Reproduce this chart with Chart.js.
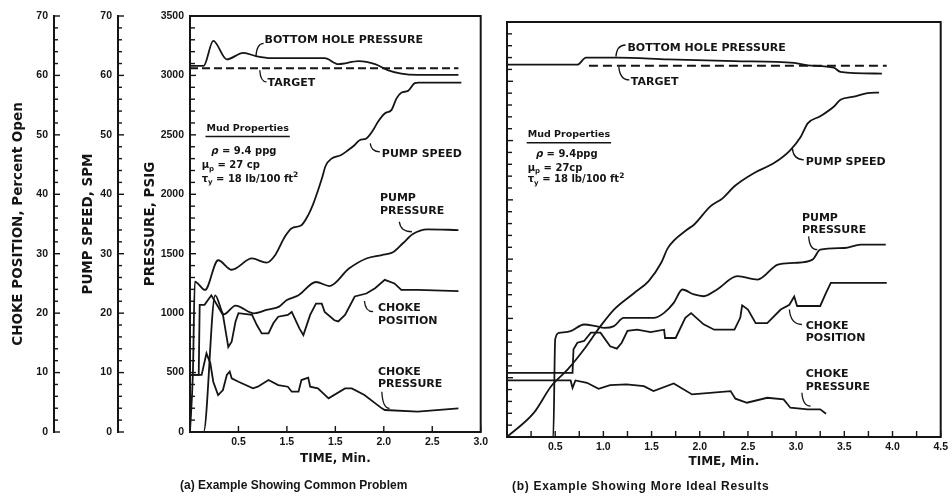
<!DOCTYPE html>
<html>
<head>
<meta charset="utf-8">
<title>Kick circulation: choke control examples</title>
<script src="https://cdn.jsdelivr.net/npm/chart.js@4.4.1/dist/chart.umd.min.js"></script>
<style>
  html, body { margin: 0; padding: 0; background: #ffffff; }
  #wrap { position: relative; width: 952px; height: 499px; overflow: hidden; }
  #boxA { position: absolute; left: 0; top: 0; }
  #boxB { position: absolute; left: 492px; top: 0; }
</style>
</head>
<body>
<div id="wrap">
  <div id="boxA"><canvas id="chartA" width="492" height="499"></canvas></div>
  <div id="boxB"><canvas id="chartB" width="460" height="499"></canvas></div>
</div>
<script>
// ---- axis ticks -------------------------------------------------------
const pressureTicks = [0, 500, 1000, 1500, 2000, 2500, 3000, 3500];
const percentTicks  = [0, 10, 20, 30, 40, 50, 60, 70];
const timeTicksA  = [0.5, 1.0, 1.5, 2.0, 2.5, 3.0];
const timeLabelsA = ['0.5', '1.5', '1.5', '2.0', '2.5', '3.0'];
const timeTicksB  = [0.5, 1.0, 1.5, 2.0, 2.5, 3.0, 3.5, 4.0, 4.5];
const timeLabelsB = ['0.5', '1.0', '1.5', '2.0', '2.5', '3.0', '3.5', '4.0', '4.5'];

// ---- (a) common problem: [time min, value] ----------------------------
const bottomHoleA = [[0,3080],[0.14,3080],[0.24,3290],[0.38,3135],[0.55,3190],[0.69,3160],[0.84,3145],[1.39,3145],[1.53,3095],[1.74,3120],[1.91,3095],[2.04,3045],[2.18,3015],[2.35,3005],[2.77,3005]];
const targetA = [[0,3060],[2.77,3060]];
// pump speed in SPM
const pumpSpeedA = [[0,0],[0.03,10],[0.05,25.3],[0.08,25.0],[0.155,23.9],[0.29,28.9],[0.43,27.3],[0.64,29.2],[0.79,28.5],[0.88,29.8],[0.98,32.9],[1.05,34.3],[1.15,34.8],[1.22,36.5],[1.27,38.3],[1.32,40.6],[1.36,42.6],[1.40,44.8],[1.46,46.0],[1.56,46.6],[1.63,47.4],[1.70,48.3],[1.75,49.1],[1.82,49.4],[1.89,50.8],[1.94,52.2],[2.01,53.6],[2.08,54.2],[2.13,56.1],[2.18,57.1],[2.25,57.4],[2.32,58.7],[2.36,58.8],[2.80,58.8]];
// pump pressure in psig
const pumpPressureA = [[0,0],[0.14,0],[0.26,1150],[0.35,990],[0.47,1064],[0.66,998],[0.80,1030],[0.92,1055],[1.00,1110],[1.12,1150],[1.30,1262],[1.44,1228],[1.64,1375],[1.82,1460],[1.98,1489],[2.10,1515],[2.20,1590],[2.30,1665],[2.45,1705],[2.77,1699]];
// choke position in percent open
const chokePositionA = [[0,9.6],[0.09,9.6],[0.10,21.4],[0.15,21.4],[0.22,23.0],[0.34,19.7],[0.38,15.8],[0.395,14.3],[0.43,15.2],[0.47,18.6],[0.50,20.0],[0.64,19.7],[0.69,18.0],[0.74,16.6],[0.81,16.6],[0.86,18.3],[0.91,19.4],[1.01,19.7],[1.05,20.2],[1.13,17.4],[1.17,16.3],[1.24,19.7],[1.30,21.6],[1.36,21.6],[1.39,20.2],[1.49,18.8],[1.53,18.6],[1.60,19.7],[1.70,22.8],[1.82,23.3],[1.91,24.2],[2.01,25.6],[2.11,25.0],[2.18,23.9],[2.35,23.9],[2.77,23.7]];
// choke pressure in psig
const chokePressureA = [[0,480],[0.12,480],[0.17,662],[0.21,578],[0.24,423],[0.29,311],[0.34,353],[0.38,480],[0.41,508],[0.43,452],[0.50,423],[0.65,367],[0.70,381],[0.81,437],[0.91,395],[1.01,381],[1.05,339],[1.12,339],[1.15,437],[1.22,457],[1.24,381],[1.32,367],[1.43,283],[1.60,367],[1.67,367],[1.80,311],[1.98,199],[2.01,185],[2.35,171],[2.77,199]];

// ---- (b) more ideal results -------------------------------------------
const bottomHoleB = [[0,3140],[0.73,3140],[0.82,3200],[1.15,3200],[1.67,3185],[2.36,3170],[2.98,3155],[3.12,3135],[3.39,3115],[3.46,3080],[3.89,3065]];
const targetB = [[0.85,3130],[3.94,3130]];
const pumpSpeedB = [[0,0],[0.28,4.1],[0.46,8.6],[0.63,11.4],[0.80,14.8],[0.97,18.7],[1.11,21.5],[1.32,24.3],[1.47,26.3],[1.60,29.4],[1.67,31.9],[1.87,35.0],[1.94,35.8],[2.11,38.9],[2.24,40.3],[2.36,42.3],[2.56,44.5],[2.77,46.2],[2.94,48.4],[3.05,50.7],[3.12,52.9],[3.25,54.1],[3.39,55.7],[3.46,56.9],[3.60,57.4],[3.74,58.0],[3.86,58.1]];
const pumpPressureB = [[0,0],[0.48,0],[0.50,823],[0.54,878],[0.66,893],[0.80,949],[0.92,935],[1.01,920],[1.11,935],[1.21,1004],[1.52,1004],[1.63,1047],[1.73,1131],[1.82,1244],[1.94,1202],[2.04,1187],[2.18,1244],[2.39,1356],[2.60,1328],[2.81,1454],[2.98,1468],[3.17,1496],[3.25,1580],[3.50,1594],[3.67,1622],[3.93,1622]];
const chokePositionB = [[0,10.8],[0.68,10.8],[0.69,14.8],[0.73,15.9],[0.80,16.2],[0.87,17.6],[0.97,17.6],[1.07,15.3],[1.14,14.9],[1.19,15.9],[1.25,17.9],[1.35,18.1],[1.49,17.7],[1.63,18.1],[1.64,16.7],[1.75,16.7],[1.85,20.1],[1.91,20.9],[2.04,19.0],[2.15,18.1],[2.36,18.1],[2.42,20.1],[2.44,22.2],[2.50,21.5],[2.58,19.2],[2.70,19.2],[2.84,21.5],[2.93,22.3],[2.98,23.7],[3.01,22.1],[3.25,22.1],[3.31,24.3],[3.36,26.0],[3.94,26.0]];
const chokePressureB = [[0,477],[0.66,477],[0.68,415],[0.71,477],[0.83,457],[0.95,407],[1.07,438],[1.24,443],[1.42,429],[1.52,387],[1.73,452],[1.92,359],[2.32,387],[2.37,323],[2.49,289],[2.70,331],[2.87,317],[2.94,247],[3.12,233],[3.25,233],[3.31,196]];

// ---- curve labels: text, anchor (time, psig) ---------------------------
const labelsA = [
  { text: ['BOTTOM HOLE PRESSURE'], t: 0.77, p: 3297 },
  { text: ['TARGET'], t: 0.80, p: 2933 },
  { text: ['PUMP SPEED'], t: 1.98, p: 2335 },
  { text: ['PUMP', 'PRESSURE'], t: 1.96, p: 1965 },
  { text: ['CHOKE', 'POSITION'], t: 1.94, p: 1040 },
  { text: ['CHOKE', 'PRESSURE'], t: 1.94, p: 507 }
];
const leadersA = [
  [[0.68,3156],[0.76,3269]], [[0.72,3044],[0.79,2946]], [[1.86,2428],[1.96,2357]],
  [[2.16,1769],[2.29,1685]], [[1.80,1102],[1.89,1012]], [[1.98,339],[2.06,199]]
];
const labelsB = [
  { text: ['BOTTOM HOLE PRESSURE'], t: 1.25, p: 3278 },
  { text: ['TARGET'], t: 1.285, p: 2989 },
  { text: ['PUMP SPEED'], t: 3.10, p: 2315 },
  { text: ['PUMP', 'PRESSURE'], t: 3.06, p: 1846 },
  { text: ['CHOKE', 'POSITION'], t: 3.10, p: 935 },
  { text: ['CHOKE', 'PRESSURE'], t: 3.10, p: 528 }
];
const leadersB = [
  [[1.13,3208],[1.23,3306]], [[1.16,3124],[1.27,3012]], [[2.96,2436],[3.08,2338]],
  [[3.13,1692],[3.22,1580]], [[2.93,1075],[3.06,949]], [[3.06,373],[3.15,261]]
];

// mud property block; parts: [text, 0 normal | 1 subscript | 2 superscript | 3 italic]
const mudA = [
  { t: 0.17, p: 2554, parts: [['Mud Properties', 0]], heading: true },
  { t: 0.22, p: 2363, parts: [['ρ', 3], [' = 9.4 ppg', 0]] },
  { t: 0.12, p: 2240, parts: [['μ', 0], ['p', 1], [' = 27 cp', 0]] },
  { t: 0.12, p: 2128, parts: [['τ', 0], ['y', 1], [' = 18 lb/100 ft', 0], ['2', 2]] }
];
const mudB = [
  { t: 0.215, p: 2549, parts: [['Mud Properties', 0]], heading: true },
  { t: 0.30, p: 2380, parts: [['ρ', 3], [' = 9.4ppg', 0]] },
  { t: 0.215, p: 2268, parts: [['μ', 0], ['p', 1], [' = 27cp', 0]] },
  { t: 0.215, p: 2170, parts: [['τ', 0], ['y', 1], [' = 18 lb/100 ft', 0], ['2', 2]] }
];

// ---- styling -----------------------------------------------------------
const ink = '#151515';
const UI = '"DejaVu Sans", "Liberation Sans", sans-serif';
const NUM = '"Liberation Sans", Arial, sans-serif';
const tickFont = { family: NUM, size: 10.5, weight: 'bold' };
const axisTitleFont = { family: UI, size: 13.5, weight: 'bold' };
const timeTitleFont = { family: UI, size: 12, weight: 'bold' };

function series(data, yAxisID, extra) {
  return Object.assign({
    data: data.map(([x, y]) => ({ x, y })),
    yAxisID,
    borderColor: ink,
    borderWidth: 1.8,
    pointRadius: 0,
    fill: false,
    tension: 0
  }, extra || {});
}
const smooth = { cubicInterpolationMode: 'monotone' };

function drawRich(ctx, x, y, parts, size) {
  let cx = x;
  for (const [txt, mode] of parts) {
    let fs = size, dy = 0, style = 'bold';
    if (mode === 1) { fs = size * 0.7; dy = size * 0.35; }
    if (mode === 2) { fs = size * 0.75; dy = -size * 0.4; }
    if (mode === 3) { style = 'italic bold'; }
    ctx.font = `${style} ${fs}px ${UI}`;
    ctx.fillText(txt, cx, y + dy);
    cx += ctx.measureText(txt).width;
  }
  return cx - x;
}

// curve labels, leader strokes, mud box and panel caption
function notesPlugin(cfg) {
  return {
    id: 'notes',
    afterDatasetsDraw(chart) {
      const { ctx, chartArea: a } = chart;
      const X = t => chart.scales.x.getPixelForValue(t);
      const Y = p => chart.scales.y.getPixelForValue(p);
      ctx.save();
      ctx.fillStyle = ink;
      ctx.strokeStyle = ink;
      ctx.textAlign = 'left';
      ctx.textBaseline = 'middle';
      ctx.font = `bold 11px ${UI}`;
      cfg.labels.forEach(l => l.text.forEach((s, i) => ctx.fillText(s, X(l.t), Y(l.p) + i * 12.5)));
      ctx.lineWidth = 1.3;
      cfg.leaders.forEach(([[t0, p0], [t1, p1]]) => {
        const x0 = X(t0), y0 = Y(p0), x1 = X(t1), y1 = Y(p1);
        ctx.beginPath();
        ctx.moveTo(x0, y0);
        ctx.quadraticCurveTo(x0 + (x1 - x0) * 0.1, y1, x1, y1);
        ctx.stroke();
      });
      cfg.mud.forEach(m => {
        const x = X(m.t), y = Y(m.p);
        const w = drawRich(ctx, x, y, m.parts, m.heading ? 9.5 : 10);
        if (m.heading) {
          ctx.lineWidth = 1.4;
          ctx.beginPath();
          ctx.moveTo(x - 1, y + 8);
          ctx.lineTo(x + w + 1, y + 8);
          ctx.stroke();
        }
      });
      ctx.font = `bold 12px ${NUM}`;
      ctx.letterSpacing = cfg.captionSpacing;
      ctx.fillText(cfg.caption, a.left + cfg.captionDx, a.bottom + cfg.captionDy);
      ctx.restore();
    }
  };
}

// plot frame and inward-pointing tick marks
function framePlugin(cfg) {
  return {
    id: 'frame',
    afterDraw(chart) {
      const { ctx, chartArea: a } = chart;
      ctx.save();
      ctx.strokeStyle = ink;
      ctx.lineWidth = 2;
      ctx.beginPath();
      ctx.moveTo(a.left - 1, a.top);
      ctx.lineTo(a.right, a.top);
      ctx.lineTo(a.right, a.bottom + 1);
      ctx.stroke();
      ctx.lineWidth = 1.4;
      cfg.vertical.forEach(v => {
        const s = chart.scales[v.id];
        const x0 = s.right;
        for (let k = 0; s.min + k * v.minor <= s.max + 1e-9; k++) {
          const val = s.min + k * v.minor;
          const y = s.getPixelForValue(val);
          const major = Math.abs(val / v.major - Math.round(val / v.major)) < 1e-6;
          ctx.beginPath();
          ctx.moveTo(x0, y);
          ctx.lineTo(x0 + (major ? v.majorLen : v.minorLen), y);
          ctx.stroke();
        }
      });
      const xs = chart.scales.x;
      for (let k = 1; k * cfg.xMinor <= xs.max + 1e-9; k++) {
        const val = k * cfg.xMinor;
        const x = xs.getPixelForValue(val);
        ctx.beginPath();
        ctx.moveTo(x, a.bottom);
        ctx.lineTo(x, a.bottom - 6);
        ctx.stroke();
      }
      ctx.restore();
    }
  };
}

function timeAxis(maxT, ticks, labels, titlePad) {
  return {
    type: 'linear', position: 'bottom', min: 0, max: maxT,
    afterBuildTicks: s => { s.ticks = [0, ...ticks].map(v => ({ value: v })); },
    afterFit: s => { s.height = 40; },
    grid: { display: false, drawTicks: false },
    border: { display: true, color: ink, width: 2 },
    ticks: { autoSkip: false, maxRotation: 0, padding: 4, color: ink, font: tickFont,
             callback: (v, i) => (i === 0 ? '' : labels[i - 1]) },
    title: { display: true, text: 'TIME, Min.', color: ink, font: timeTitleFont, padding: { top: 0, bottom: titlePad } }
  };
}

function leftAxis(opts) {
  return {
    type: 'linear', position: 'left', weight: opts.weight, min: 0, max: opts.max,
    display: opts.display !== false,
    afterBuildTicks: s => { s.ticks = opts.ticks.map(v => ({ value: v })); },
    afterFit: s => { s.width = opts.width; },
    grid: { display: false, drawTicks: false },
    border: { display: true, color: ink, width: 2 },
    ticks: { display: opts.showLabels !== false, padding: 6, color: ink, font: tickFont, callback: v => String(v) },
    title: { display: !!opts.title, text: opts.title || '', color: ink, font: axisTitleFont,
             padding: { top: opts.titlePad || 0, bottom: 0 } }
  };
}

const baseOptions = {
  responsive: false,
  animation: false,
  events: [],
  plugins: { legend: { display: false }, tooltip: { enabled: false } }
};

// ---- panel (a) ---------------------------------------------------------
new Chart(document.getElementById('chartA'), {
  type: 'line',
  data: {
    datasets: [
      series(bottomHoleA, 'y', smooth),
      series(targetA, 'y', { borderDash: [8, 4], borderWidth: 2 }),
      series(pumpSpeedA, 'yPump', smooth),
      series(pumpPressureA, 'y', smooth),
      series(chokePositionA, 'yChoke'),
      series(chokePressureA, 'y')
    ]
  },
  options: Object.assign({}, baseOptions, {
    layout: { padding: { left: 0, right: 11, top: 16, bottom: 27 } },
    scales: {
      x: timeAxis(3.0, timeTicksA, timeLabelsA, 6),
      yChoke: leftAxis({ weight: 2, max: 70, ticks: percentTicks, width: 54, title: 'CHOKE POSITION, Percent Open', titlePad: 10 }),
      yPump: leftAxis({ weight: 1, max: 70, ticks: percentTicks, width: 64, title: 'PUMP SPEED, SPM', titlePad: 26 }),
      y: leftAxis({ weight: 0, max: 3500, ticks: pressureTicks, width: 72, title: 'PRESSURE, PSIG', titlePad: 24 })
    }
  }),
  plugins: [
    framePlugin({
      vertical: [
        { id: 'yChoke', minor: 2, major: 10, minorLen: 4, majorLen: 6 },
        { id: 'yPump', minor: 2, major: 10, minorLen: 4, majorLen: 6 },
        { id: 'y', minor: 100, major: 500, minorLen: 5, majorLen: 6 }
      ],
      xMinor: 0.5
    }),
    notesPlugin({ labels: labelsA, leaders: leadersA, mud: mudA,
                  caption: '(a) Example Showing Common Problem', captionDx: -10, captionDy: 54, captionSpacing: '0px' })
  ]
});

// ---- panel (b) ---------------------------------------------------------
new Chart(document.getElementById('chartB'), {
  type: 'line',
  data: {
    datasets: [
      series(bottomHoleB, 'y', smooth),
      series(targetB, 'y', { borderDash: [9, 5], borderWidth: 2 }),
      series(pumpSpeedB, 'yPump', smooth),
      series(pumpPressureB, 'y', smooth),
      series(chokePositionB, 'yChoke'),
      series(chokePressureB, 'y')
    ]
  },
  options: Object.assign({}, baseOptions, {
    layout: { padding: { left: 0, right: 11, top: 22, bottom: 22 } },
    scales: {
      x: timeAxis(4.5, timeTicksB, timeLabelsB, 8),
      yChoke: leftAxis({ weight: 2, max: 70, ticks: percentTicks, width: 0, display: false }),
      yPump: leftAxis({ weight: 1, max: 70, ticks: percentTicks, width: 0, display: false }),
      y: leftAxis({ weight: 0, max: 3500, ticks: pressureTicks, width: 15, showLabels: false })
    }
  }),
  plugins: [
    framePlugin({
      vertical: [{ id: 'y', minor: 100, major: 500, minorLen: 5, majorLen: 6 }],
      xMinor: 0.25
    }),
    notesPlugin({ labels: labelsB, leaders: leadersB, mud: mudB,
                  caption: '(b) Example Showing More Ideal Results', captionDx: 5, captionDy: 50, captionSpacing: '0.7px' })
  ]
});
</script>
</body>
</html>
